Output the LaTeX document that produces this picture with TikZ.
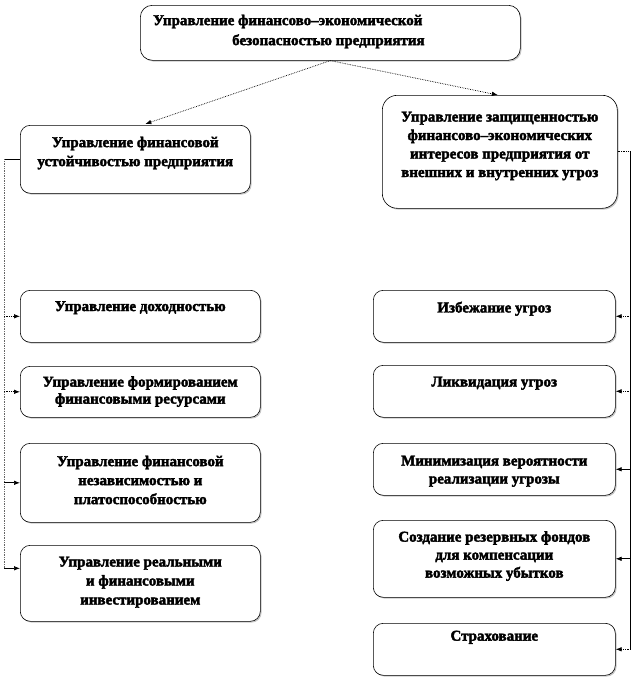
\documentclass[tikz,border=0pt]{standalone}
\usepackage{fontspec}
\setmainfont{Liberation Serif}[BoldFeatures={FakeBold=2.5}]
\usetikzlibrary{arrows.meta,shadows,calc}
\begin{document}
\begin{tikzpicture}[x=1pt,y=-1pt,
  box/.style={draw=black, line width=0.6pt, rounded corners=10pt, fill=white,
    anchor=north west, inner sep=0pt,
    drop shadow={shadow xshift=1.3pt, shadow yshift=-1.3pt, fill=black!45}},
  txt/.style={font=\bfseries\fontsize{15}{19}\selectfont, align=center, anchor=north, inner sep=0pt},
  conn/.style={line width=0.7pt},
  dconn/.style={conn, densely dotted},
  tip/.style={-{Latex[length=6pt,width=4.5pt]}},
]
\useasboundingbox (0,0) rectangle (633,678);

% boxes
\node[box, rounded corners=12pt, minimum width=380pt, minimum height=55pt] (top) at (140,5) {};
\node[box, minimum width=230pt, minimum height=68pt] (L1) at (20,125) {};
\node[box, rounded corners=15pt, minimum width=235pt, minimum height=113pt] (R1) at (382,95) {};
\node[box, minimum width=240pt, minimum height=52pt] (L2) at (20,290) {};
\node[box, minimum width=240pt, minimum height=51pt] (L3) at (20,366) {};
\node[box, minimum width=240pt, minimum height=79pt] (L4) at (20,443) {};
\node[box, minimum width=240pt, minimum height=76pt] (L5) at (20,545) {};
\node[box, minimum width=242pt, minimum height=52pt] (R2) at (373,290) {};
\node[box, minimum width=242pt, minimum height=52pt] (R3) at (373,365) {};
\node[box, minimum width=242pt, minimum height=52pt] (R4) at (373,443) {};
\node[box, minimum width=242pt, minimum height=77pt] (R5) at (373,520) {};
\node[box, minimum width=242pt, minimum height=52pt] (R6) at (373,623) {};

% texts
\node[txt, anchor=north west, align=left, font=\bfseries\fontsize{15}{20}\selectfont] (tTop)
  at ($(top.north west)+(13,9.5)$) {Управление финансово–экономической\\\hspace*{79pt}безопасностью предприятия};
\node[txt] (tL1) at ($(L1.north)+(0,11.5)$) {Управление финансовой\\устойчивостью предприятия};
\node[txt, font=\bfseries\fontsize{15}{18.5}\selectfont] (tR1) at ($(R1.north)+(0,16.5)$)
  {Управление защищенностью\\финансово–экономических\\интересов предприятия от\\внешних и внутренних угроз};
\node[txt] (tL2) at ($(L2.north)+(0,11)$) {Управление доходностью};
\node[txt, font=\bfseries\fontsize{15}{17}\selectfont] (tL3) at ($(L3.north)+(0,10)$) {Управление формированием\\финансовыми ресурсами};
\node[txt] (tL4) at ($(L4.north)+(0,12.5)$) {Управление финансовой\\независимостью и\\платоспособностью};
\node[txt] (tL5) at ($(L5.north)+(0,11.5)$) {Управление реальными\\и финансовыми\\инвестированием};
\node[txt] (tR2) at ($(R2.north)+(0,11.5)$) {Избежание угроз};
\node[txt] (tR3) at ($(R3.north)+(0,11.5)$) {Ликвидация угроз};
\node[txt, font=\bfseries\fontsize{15}{18}\selectfont] (tR4) at ($(R4.north)+(0,12.5)$) {Минимизация вероятности\\реализации угрозы};
\node[txt, font=\bfseries\fontsize{15}{18}\selectfont] (tR5) at ($(R5.north)+(0,11)$) {Создание резервных фондов\\для компенсации\\возможных убытков};
\node[txt] (tR6) at ($(R6.north)+(0,7.5)$) {Страхование};

% top connectors
\draw[dconn, tip] (top.south) -- ($(L1.north)+(10,-1)$);
\draw[dconn, tip] (top.south) -- ($(R1.north)+(-2,0)$);

% left trunk
\coordinate (lt) at ($(L1.west)+(-16,0)$);
\coordinate (l5in) at ($(L5.west)+(0,-15)$);
\draw[conn] (L1.west) -- (lt);
\draw[conn, draw=black!60, densely dotted] (lt) -- (lt |- l5in);
\draw[dconn, tip] (lt |- L2.west) -- (L2.west);
\draw[dconn, tip] (lt |- L3.west) -- (L3.west);
\draw[conn, tip] (lt |- L4.west) -- (L4.west);
\draw[conn, tip] (lt |- l5in) -- (l5in);

% right trunk
\coordinate (rt) at ($(R1.east)+(13,0)$);
\draw[dconn] (R1.east) -- (rt);
\draw[conn] (rt) -- (rt |- R6.east);
\draw[dconn, tip] (rt |- R2.east) -- (R2.east);
\draw[dconn, tip] (rt |- R3.east) -- (R3.east);
\draw[conn, tip] (rt |- R4.east) -- (R4.east);
\draw[conn, tip] (rt |- R5.east) -- (R5.east);
\draw[dconn, tip] (rt |- R6.east) -- (R6.east);
\end{tikzpicture}
\end{document}
